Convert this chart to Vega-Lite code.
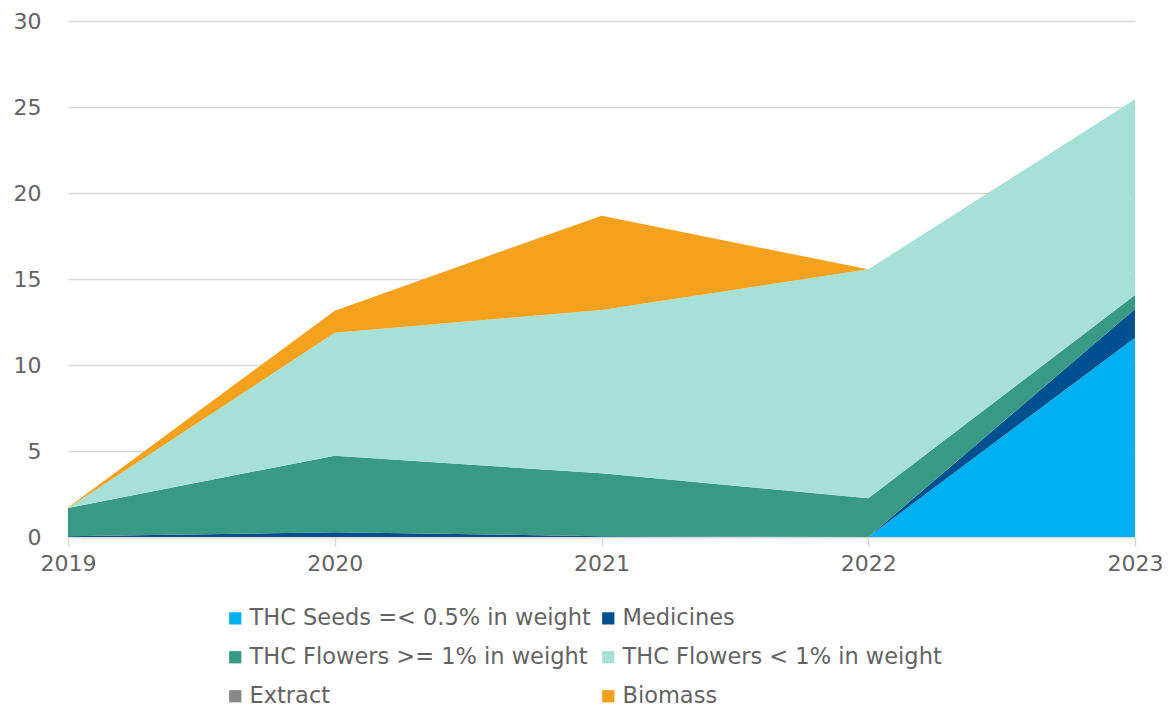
{
  "$schema": "https://vega.github.io/schema/vega-lite/v6.json",
  "autosize": {"type": "none"},
  "width": 1067,
  "height": 516,
  "padding": {"left": 68, "top": 21, "right": 35, "bottom": 174},
  "background": "white",
  "config": {
    "font": "DejaVu Sans",
    "view": {"stroke": null},
    "axis": {"labelFont": "DejaVu Sans", "labelColor": "#636363", "labelFontSize": 22}
  },
  "data": {
    "values": [
      {"year": "2019", "series": "THC Seeds =< 0.5% in weight", "k": 1, "value": 0},
      {"year": "2019", "series": "Medicines", "k": 2, "value": 0.05},
      {"year": "2019", "series": "THC Flowers >= 1% in weight", "k": 3, "value": 1.64},
      {"year": "2019", "series": "THC Flowers < 1% in weight", "k": 4, "value": 0},
      {"year": "2019", "series": "Extract", "k": 5, "value": 0},
      {"year": "2019", "series": "Biomass", "k": 6, "value": 0.03},
      {"year": "2020", "series": "THC Seeds =< 0.5% in weight", "k": 1, "value": 0},
      {"year": "2020", "series": "Medicines", "k": 2, "value": 0.27},
      {"year": "2020", "series": "THC Flowers >= 1% in weight", "k": 3, "value": 4.46},
      {"year": "2020", "series": "THC Flowers < 1% in weight", "k": 4, "value": 7.15},
      {"year": "2020", "series": "Extract", "k": 5, "value": 0},
      {"year": "2020", "series": "Biomass", "k": 6, "value": 1.28},
      {"year": "2021", "series": "THC Seeds =< 0.5% in weight", "k": 1, "value": 0},
      {"year": "2021", "series": "Medicines", "k": 2, "value": 0.05},
      {"year": "2021", "series": "THC Flowers >= 1% in weight", "k": 3, "value": 3.65},
      {"year": "2021", "series": "THC Flowers < 1% in weight", "k": 4, "value": 9.5},
      {"year": "2021", "series": "Extract", "k": 5, "value": 0},
      {"year": "2021", "series": "Biomass", "k": 6, "value": 5.48},
      {"year": "2022", "series": "THC Seeds =< 0.5% in weight", "k": 1, "value": 0},
      {"year": "2022", "series": "Medicines", "k": 2, "value": 0},
      {"year": "2022", "series": "THC Flowers >= 1% in weight", "k": 3, "value": 2.25},
      {"year": "2022", "series": "THC Flowers < 1% in weight", "k": 4, "value": 13.31},
      {"year": "2022", "series": "Extract", "k": 5, "value": 0},
      {"year": "2022", "series": "Biomass", "k": 6, "value": 0},
      {"year": "2023", "series": "THC Seeds =< 0.5% in weight", "k": 1, "value": 11.59},
      {"year": "2023", "series": "Medicines", "k": 2, "value": 1.67},
      {"year": "2023", "series": "THC Flowers >= 1% in weight", "k": 3, "value": 0.81},
      {"year": "2023", "series": "THC Flowers < 1% in weight", "k": 4, "value": 11.38},
      {"year": "2023", "series": "Extract", "k": 5, "value": 0},
      {"year": "2023", "series": "Biomass", "k": 6, "value": 0}
    ]
  },
  "mark": {"type": "area", "opacity": 1},
  "encoding": {
    "x": {
      "field": "year",
      "type": "ordinal",
      "scale": {"type": "point", "padding": 0},
      "axis": {
        "title": null,
        "labelAngle": 0,
        "domainColor": "#D9D9D9",
        "domainWidth": 1.5,
        "tickColor": "#D9D9D9",
        "tickSize": 9,
        "tickWidth": 1.5,
        "labelPadding": 7,
        "grid": false
      }
    },
    "y": {
      "field": "value",
      "type": "quantitative",
      "stack": "zero",
      "scale": {"domain": [0, 30], "nice": false},
      "axis": {
        "title": null,
        "values": [0, 5, 10, 15, 20, 25, 30],
        "domain": false,
        "ticks": false,
        "labelPadding": 27,
        "gridColor": "#D9D9D9",
        "gridWidth": 1.5
      }
    },
    "order": {"field": "k", "type": "quantitative"},
    "color": {
      "field": "series",
      "type": "nominal",
      "scale": {
        "domain": ["THC Seeds =< 0.5% in weight", "Medicines", "THC Flowers >= 1% in weight", "THC Flowers < 1% in weight", "Extract", "Biomass"],
        "range": ["#00B0F0", "#004F91", "#389985", "#A6E0D6", "#878787", "#F4A11D"]
      },
      "legend": {
        "title": null,
        "orient": "none",
        "direction": "horizontal",
        "legendX": 156,
        "legendY": 586,
        "columns": 2,
        "symbolType": "square",
        "symbolSize": 150,
        "symbolStrokeWidth": 0,
        "labelFont": "DejaVu Sans",
        "labelFontSize": 22.5,
        "labelColor": "#636363",
        "labelOffset": 3,
        "labelLimit": 420,
        "rowPadding": 16,
        "columnPadding": 6,
        "gridAlign": "each"
      }
    }
  }
}
